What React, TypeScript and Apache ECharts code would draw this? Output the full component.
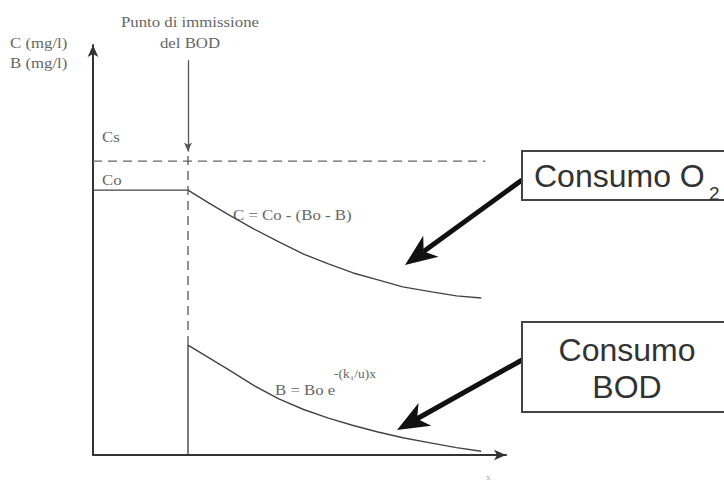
import React, { useEffect, useRef } from "react";
import * as echarts from "echarts";

// Shared x positions (downstream distance, arbitrary units 0..100)
const xPoints = [23, 28, 33, 39, 45, 51, 57, 63, 69, 75, 82, 88, 94];
// Dissolved oxygen C after the BOD discharge
const cValues = [64.6, 61.5, 58.5, 55.1, 52.0, 49.0, 46.6, 44.4, 42.7, 41.0, 39.8, 38.8, 38.3];
// BOD B after the discharge
const bX = [23, 33, 39, 45, 51, 57, 63, 69, 75, 82, 88, 94];
const bValues = [26.8, 20.7, 16.9, 13.7, 11.1, 9.0, 7.2, 5.6, 4.2, 2.9, 1.8, 0.9];
// Levels
const csLevel = 71.7; // saturation
const coLevel = 64.6; // initial O2
const dischargeX = 23;
const dischargeTop = 96.3;
const dischargeArrowTip = 74;
const csEndX = 95;

const LINE = "#444";
const SERIF = "'Liberation Serif', 'DejaVu Serif', serif";
const SANS = "'Liberation Sans', Arial, sans-serif";

function arrow(sx: number, sy: number, tx: number, ty: number) {
  const dx = tx - sx, dy = ty - sy;
  const len = Math.hypot(dx, dy);
  const ux = dx / len, uy = dy / len;
  const nx = -uy, ny = ux;
  const L = 32, W = 13, notch = 9;
  const bx = tx - L * ux, by = ty - L * uy;
  const mx = tx - (L - notch) * ux, my = ty - (L - notch) * uy;
  return [
    { type: "line", shape: { x1: sx, y1: sy, x2: mx, y2: my }, style: { stroke: "#111", lineWidth: 5 } },
    {
      type: "polygon",
      shape: { points: [[tx, ty], [bx + W * nx, by + W * ny], [mx, my], [bx - W * nx, by - W * ny]] },
      style: { fill: "#111" },
    },
  ];
}

export default function App() {
  const ref = useRef<HTMLDivElement>(null);
  useEffect(() => {
    const chart = echarts.init(ref.current!, undefined, { renderer: "svg" });
    const cData = [[0, coLevel], ...xPoints.map((x, i) => [x, cValues[i]])];
    const bData = bX.map((x, i) => [x, bValues[i]]);
    const lineStyle = { color: LINE, width: 1.4 };
    const txt = (x: number, y: number, text: string, size: number, extra: any = {}) => ({
      type: "text",
      x,
      y,
      scaleX: 1.12,
      style: { text, fontFamily: SERIF, fontSize: size, fill: "#666666", textVerticalAlign: "middle", ...extra },
    });
    chart.setOption({
      animation: false,
      backgroundColor: "#fff",
      grid: { left: 93, right: 218, top: 45, bottom: 27 },
      xAxis: {
        type: "value",
        min: 0,
        max: 100,
        axisLine: { show: true, lineStyle: { color: "#333", width: 2 }, symbol: ["none", "arrow"], symbolSize: [8, 12] },
        axisTick: { show: false },
        axisLabel: { show: false },
        splitLine: { show: false },
      },
      yAxis: {
        type: "value",
        min: 0,
        max: 100,
        axisLine: { show: true, lineStyle: { color: "#333", width: 2 }, symbol: ["none", "arrow"], symbolSize: [8, 12] },
        axisTick: { show: false },
        axisLabel: { show: false },
        splitLine: { show: false },
      },
      series: [
        {
          type: "line",
          data: cData,
          showSymbol: false,
          lineStyle,
        },
        {
          type: "line",
          data: bData,
          showSymbol: false,
          lineStyle,
        },
        {
          type: "line",
          data: [[0, csLevel], [csEndX, csLevel]],
          showSymbol: false,
          lineStyle: { color: "#666", width: 1.3, type: [9, 6] },
        },
        {
          type: "line",
          data: [[dischargeX, bValues[0]], [dischargeX, dischargeArrowTip]],
          showSymbol: false,
          lineStyle: { color: "#555", width: 1.3, type: [9, 6] },
        },
        {
          type: "line",
          data: [[dischargeX, 0], [dischargeX, bValues[0]]],
          showSymbol: false,
          lineStyle,
        },
        {
          type: "line",
          data: [],
          markLine: {
            silent: true,
            symbol: ["none", "arrow"],
            symbolSize: [6, 9],
            label: { show: false },
            lineStyle: { color: "#555", width: 1.3, type: "solid" },
            data: [[{ coord: [dischargeX, dischargeTop] }, { coord: [dischargeX, dischargeArrowTip] }]],
          },
        },
      ],
      graphic: [
        txt(10, 43, "C (mg/l)", 15),
        txt(10, 63, "B (mg/l)", 15),
        txt(190, 22, "Punto di immissione", 15, { textAlign: "center" }),
        txt(190, 43, "del BOD", 15, { textAlign: "center" }),
        txt(102, 137, "Cs", 15),
        txt(102, 180, "Co", 15),
        txt(233, 215, "C = Co - (Bo - B)", 15),
        txt(275, 390, "B = Bo e", 15),
        txt(334, 374, "-(k\u2081/u)x", 12),
        txt(486, 477, "x", 8, { fill: "#aaa" }),
        ...arrow(522, 180, 405, 265),
        ...arrow(522, 360, 397, 430),
        {
          type: "rect",
          shape: { x: 522, y: 151, width: 214, height: 49 },
          style: { fill: "#fff", stroke: "#444", lineWidth: 2 },
        },
        {
          type: "text",
          x: 534,
          y: 176,
          style: { text: "Consumo O", fontFamily: SANS, fontSize: 32, fill: "#333", textVerticalAlign: "middle" },
        },
        {
          type: "text",
          x: 709,
          y: 193,
          style: { text: "2", fontFamily: SANS, fontSize: 19, fill: "#333", textVerticalAlign: "middle" },
        },
        {
          type: "rect",
          shape: { x: 522, y: 322, width: 214, height: 90 },
          style: { fill: "#fff", stroke: "#444", lineWidth: 2 },
        },
        {
          type: "text",
          x: 627,
          y: 350,
          style: { text: "Consumo", fontFamily: SANS, fontSize: 32, fill: "#333", textAlign: "center", textVerticalAlign: "middle" },
        },
        {
          type: "text",
          x: 627,
          y: 387,
          style: { text: "BOD", fontFamily: SANS, fontSize: 32, fill: "#333", textAlign: "center", textVerticalAlign: "middle" },
        },
      ],
    });
    return () => chart.dispose();
  }, []);
  return <div ref={ref} style={{ position: "fixed", left: 0, top: 0, width: 724, height: 482 }} />;
}
